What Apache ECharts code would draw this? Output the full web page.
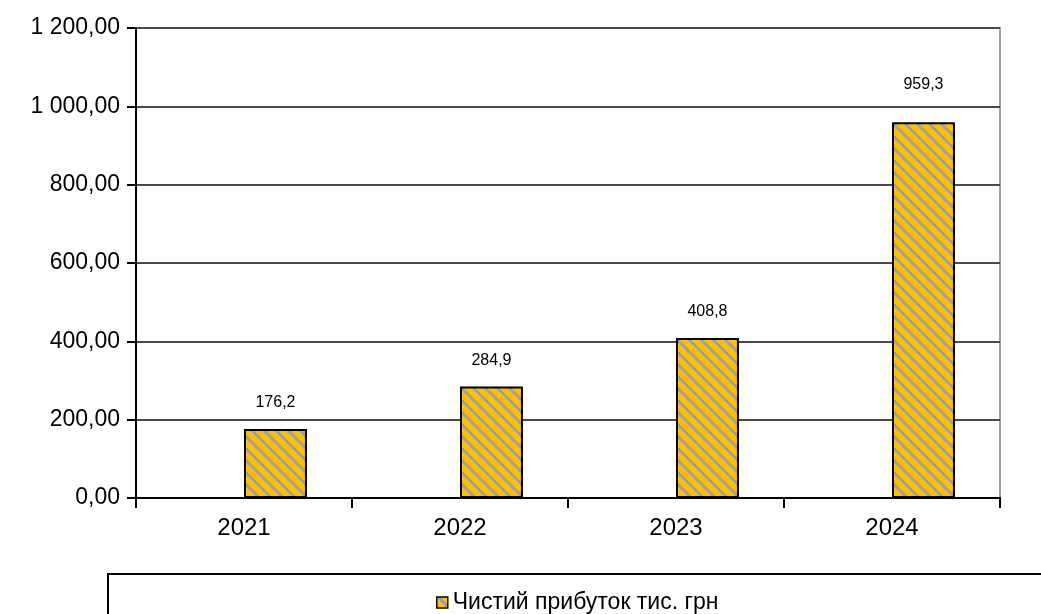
<!DOCTYPE html>
<html><head><meta charset="utf-8">
<script src="https://cdn.jsdelivr.net/npm/echarts@6/dist/echarts.min.js"></script>
<style>html,body{margin:0;padding:0;background:#fff}#c{width:1041px;height:614px}</style>
</head><body><div id="c"></div>
<script>
const categories = ['2021', '2022', '2023', '2024'];
const profit = [176.2, 284.9, 408.8, 959.3];
const yTicks = [0, 200, 400, 600, 800, 1000, 1200];
const seriesName = 'Чистий прибуток тис. грн';

function makePattern() {
  const s = 12;
  const c = document.createElement('canvas');
  c.width = s; c.height = s;
  const ctx = c.getContext('2d');
  const img = ctx.createImageData(s, s);
  for (let y = 0; y < s; y++) for (let x = 0; x < s; x++) {
    const d = ((x - y) % s + s) % s;
    const i = (y * s + x) * 4;
    let r = 255, g = 192, b = 0;
    if (d < 4) { r = 160; g = 160; b = 160; }
    img.data[i] = r; img.data[i+1] = g; img.data[i+2] = b; img.data[i+3] = 255;
  }
  ctx.putImageData(img, 0, 0);
  return c;
}
const pat = { image: makePattern(), repeat: 'repeat' };

function fmt(v) {
  const s = v.toFixed(2).replace('.', ',');
  const [ip, dp] = s.split(',');
  return ip.replace(/\B(?=(\d{3})+(?!\d))/g, ' ') + ',' + dp;
}

const chart = echarts.init(document.getElementById('c'), null, { renderer: 'canvas' });
chart.setOption({
  animation: false,
  backgroundColor: '#fff',
  textStyle: { fontFamily: 'Liberation Sans, Arial, sans-serif' },
  grid: { left: 136, right: 41, top: 28, bottom: 116, show: true, borderColor: '#a0a0a0', borderWidth: 2, backgroundColor: 'transparent' },
  legend: {
    data: [{ name: seriesName, icon: 'rect' }],
    left: 431, top: 586, itemWidth: 11, itemHeight: 11, itemGap: 5,
    textStyle: { fontSize: 23, color: '#000', fontFamily: 'Liberation Sans, Arial, sans-serif' },
    itemStyle: { borderColor: '#000', borderWidth: 1.5 }
  },
  graphic: [{
    type: 'rect', left: 107, top: 573, silent: true, z: -1,
    shape: { width: 950, height: 60 },
    style: { fill: '#fff', stroke: '#000', lineWidth: 2 }
  }],
  xAxis: {
    type: 'category', data: categories,
    axisLine: { lineStyle: { color: '#000', width: 2 } },
    axisTick: { show: true, length: 10, lineStyle: { color: '#000', width: 2 } },
    axisLabel: { fontSize: 24, color: '#000', margin: 18 }
  },
  yAxis: {
    type: 'value', min: 0, max: 1200, interval: 200,
    axisLine: { show: true, lineStyle: { color: '#000', width: 2 } },
    axisTick: { show: true, length: 9, lineStyle: { color: '#000', width: 2 } },
    splitLine: { lineStyle: { color: '#4a4a4a', width: 2 } },
    axisLabel: { fontSize: 23, color: '#000', margin: 16, formatter: fmt }
  },
  series: [
    { name: '_pad', type: 'bar', data: categories.map(() => null), barGap: '0%', barCategoryGap: '41.7%', silent: true },
    {
      name: seriesName, type: 'bar',
      data: profit.map((v, i) => i === profit.length - 1 ? { value: v, label: { distance: 30 } } : v),
      barGap: '0%', barCategoryGap: '41.7%',
      itemStyle: { color: pat, borderColor: '#000', borderWidth: 2 },
      label: { show: true, position: 'top', distance: 18, fontSize: 16, color: '#000',
        formatter: p => p.value.toFixed(1).replace('.', ',') }
    }
  ]
});
</script></body></html>
